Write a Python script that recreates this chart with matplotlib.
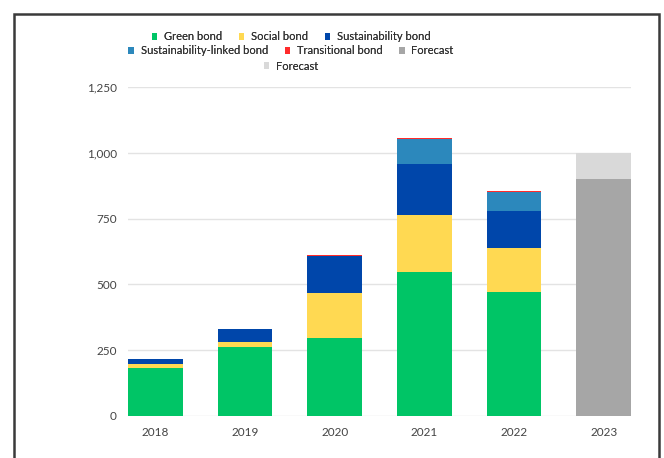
import numpy as np
import matplotlib.pyplot as plt
from matplotlib.patches import Rectangle
from matplotlib.ticker import FuncFormatter

plt.rcParams['font.family'] = ['Lato', 'DejaVu Sans']

#   Data
years = ['2018', '2019', '2020', '2021', '2022', '2023']
green = [181, 263, 295, 548, 472, 0]
social = [17, 17, 171, 216, 165, 0]
sustainability = [18, 50, 142, 193, 143, 0]
linked = [0, 0, 0, 95, 70, 0]
transitional = [0, 0, 4, 5, 5, 0]
forecast = [0, 0, 0, 0, 0, 900]
forecast_extra = [0, 0, 0, 0, 0, 100]

series = [
    ('Green bond', green, '#00C566'),
    ('Social bond', social, '#FFD952'),
    ('Sustainability bond', sustainability, '#0046AA'),
    ('Sustainability-linked bond', linked, '#2C88BC'),
    ('Transitional bond', transitional, '#FF2B2B'),
    ('Forecast', forecast, '#A6A6A6'),
    ('Forecast', forecast_extra, '#D9D9D9'),
]

fig = plt.figure(figsize=(6.64, 4.58), dpi=100)
ax = fig.add_axes([128/664, 1-416/458, (631-128)/664, (416-87)/458])

x = np.arange(len(years))
bottom = np.zeros(len(years))
handles = []
for name, vals, col in series:
    vals = np.array(vals, dtype=float)
    b = ax.bar(x, vals, 0.61, bottom=bottom, color=col, label=name, zorder=3)
    handles.append(b)
    bottom += vals

ax.set_xlim(-0.305, len(years) - 1 + 0.305)
ax.set_ylim(0, 1250)
ax.set_yticks([0, 250, 500, 750, 1000, 1250])
ax.yaxis.set_major_formatter(FuncFormatter(lambda v, p: '{:,.0f}'.format(v)))
ax.set_xticks(x)
ax.set_xticklabels(years)
ax.grid(axis='y', color='#E3E3E3', lw=1, zorder=0)
for s in ax.spines.values():
    s.set_visible(False)
ax.tick_params(length=0, labelsize=8.5, colors='#444444', pad=8)

#   Legend in three centred rows
rows = [handles[0:3], handles[3:6], handles[6:7]]
ys = [1-37/458, 1-51/458, 1-66/458]
for hs, yy in zip(rows, ys):
    lg = fig.legend(hs, [h.get_label() for h in hs], loc='center',
                    bbox_to_anchor=(291/664, yy), ncol=len(hs), frameon=False,
                    fontsize=8, handlelength=0.5, handleheight=0.5,
                    handletextpad=0.6, columnspacing=1.5, borderpad=0,
                    labelcolor='#333333')
    fig.add_artist(lg)

#   Frame around the picture
fig.add_artist(Rectangle((14/664, -0.05), (659-14)/664, 1-14/458+0.05,
                         transform=fig.transFigure, fill=False,
                         edgecolor='#3A3A3A', lw=1.8))

fig.savefig('out.png', dpi=100)
